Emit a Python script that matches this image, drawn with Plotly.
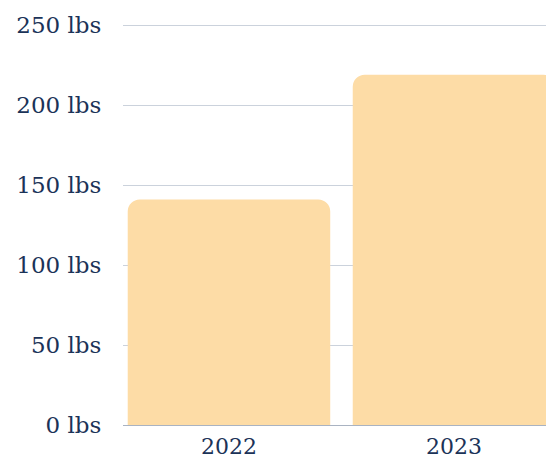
import plotly.graph_objects as go

years = ["2022", "2023"]
weights = [141, 219]
y_ticks = [0, 50, 100, 150, 200, 250]
y_tick_labels = [f"{v} lbs" for v in y_ticks]

navy = "#1b3358"
font_family = "DejaVu Serif"

fig = go.Figure(
    go.Bar(
        x=[0, 1],
        y=weights,
        width=0.9,
        marker=dict(color="#fddca6", line=dict(width=0)),
        hoverinfo="skip",
    )
)

fig.update_layout(
    width=546,
    height=460,
    margin=dict(l=123, r=0, t=22, b=35),
    paper_bgcolor="white",
    plot_bgcolor="white",
    showlegend=False,
    barcornerradius=12,
    font=dict(family=font_family, color=navy, size=22),
)

fig.update_xaxes(
    range=[-0.471, 1.409],
    tickvals=[0, 1],
    ticktext=years,
    showgrid=False,
    zeroline=False,
    showline=True,
    linecolor="#a9b3c2",
    linewidth=1,
    ticks="outside",
    ticklen=2,
    tickcolor="rgba(0,0,0,0)",
    tickfont=dict(size=22, color=navy, family=font_family),
    automargin=False,
)

fig.update_yaxes(
    range=[0, 252],
    tickvals=y_ticks,
    ticktext=y_tick_labels,
    showgrid=True,
    gridcolor="#cbd2dc",
    gridwidth=1,
    zeroline=False,
    showline=False,
    ticks="outside",
    ticklen=16,
    tickcolor="rgba(0,0,0,0)",
    tickfont=dict(size=23, color=navy, family=font_family),
    automargin=False,
)

fig.write_html("out.html")
